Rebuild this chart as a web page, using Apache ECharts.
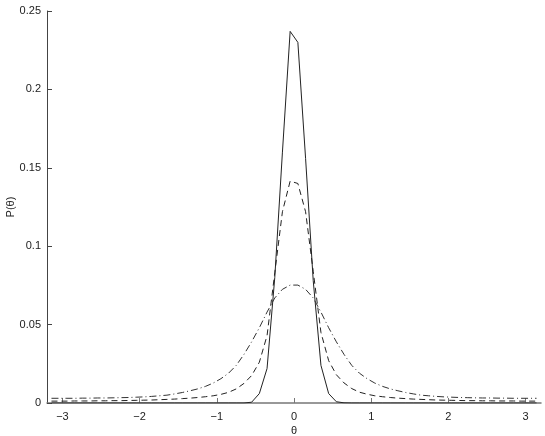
<!DOCTYPE html>
<html lang="en">
<head>
    <meta charset="UTF-8">
    <title>P(theta)</title>
    <script src="https://cdn.jsdelivr.net/npm/echarts@6.0.0/dist/echarts.min.js"></script>
    <style>
        html, body { margin: 0; padding: 0; background: #fff; }
    </style>
</head>
<body>
<div id="main" style="width: 545px;height:436px;"></div>

<script type="text/javascript">
    // theta sample points (64, from -pi to pi)
    var theta = [
        -3.142, -3.042, -2.942, -2.842, -2.743, -2.643, -2.543, -2.443, -2.344, -2.244, -2.144, -2.045,
        -1.945, -1.845, -1.745, -1.646, -1.546, -1.446, -1.346, -1.247, -1.147, -1.047, -0.947, -0.848,
        -0.748, -0.648, -0.549, -0.449, -0.349, -0.249, -0.150, -0.050,
        0.050, 0.150, 0.249, 0.349, 0.449, 0.549, 0.648, 0.748, 0.848, 0.947, 1.047, 1.147,
        1.247, 1.346, 1.446, 1.546, 1.646, 1.745, 1.845, 1.945, 2.045, 2.144, 2.244, 2.344,
        2.443, 2.543, 2.643, 2.743, 2.842, 2.942, 3.042, 3.142
    ];

    // solid curve (narrow)
    var solid = [
        0, 0, 0, 0, 0, 0, 0, 0, 0, 0, 0, 0, 0, 0, 0, 0, 0, 0, 0, 0, 0, 0, 0, 0, 0, 0,
        0.0005, 0.006, 0.022, 0.080, 0.160, 0.237,
        0.230, 0.156, 0.078, 0.024, 0.006, 0.0008, 0.0001,
        0, 0, 0, 0, 0, 0, 0, 0, 0, 0, 0, 0, 0, 0, 0, 0, 0, 0, 0, 0, 0, 0, 0, 0, 0, 0
    ];

    // dashed curve
    var dashed = [
        0.0012, 0.0012, 0.0012, 0.0013, 0.0013, 0.0013, 0.0014, 0.0014, 0.0015, 0.0015, 0.0016, 0.0017,
        0.0018, 0.0019, 0.0021, 0.0023, 0.0025, 0.0028, 0.0031, 0.0035, 0.0040, 0.0046, 0.0055, 0.0068,
        0.0090, 0.0125, 0.0175, 0.026, 0.043, 0.083, 0.122, 0.1415,
        0.140, 0.122, 0.084, 0.045, 0.027, 0.018, 0.0128, 0.0092, 0.0069, 0.0056, 0.0046, 0.0040,
        0.0035, 0.0031, 0.0028, 0.0025, 0.0023, 0.0021, 0.0019, 0.0018, 0.0017, 0.0016, 0.0015, 0.0015,
        0.0014, 0.0014, 0.0013, 0.0013, 0.0013, 0.0012, 0.0012, 0.0012
    ];

    // dash-dot curve (widest)
    var dashDot = [
        0.0030, 0.0030, 0.0030, 0.0030, 0.0031, 0.0031, 0.0032, 0.0032, 0.0033, 0.0034, 0.0035, 0.0037,
        0.0039, 0.0042, 0.0046, 0.0050, 0.0058, 0.0067, 0.0078, 0.0090, 0.0106, 0.0127, 0.0155, 0.019,
        0.024, 0.031, 0.039, 0.048, 0.058, 0.067, 0.0725, 0.0752,
        0.0752, 0.0725, 0.067, 0.058, 0.048, 0.039, 0.031, 0.024, 0.019, 0.0155, 0.0127, 0.0106,
        0.0090, 0.0078, 0.0067, 0.0058, 0.0050, 0.0046, 0.0042, 0.0039, 0.0037, 0.0035, 0.0034, 0.0033,
        0.0032, 0.0032, 0.0031, 0.0031, 0.0030, 0.0030, 0.0030, 0.0030
    ];

    var xTicks = [-3, -2, -1, 0, 1, 2, 3];

    function pairs(ys) {
        return theta.map(function (t, i) { return [t, ys[i]]; });
    }

    var font = 'Liberation Sans, Arial, sans-serif';
    var myChart = echarts.init(document.getElementById('main'));
    var option = {
        animation: false,
        backgroundColor: '#fff',
        grid: { left: 47, right: 4, top: 11, bottom: 33, containLabel: false, outerBoundsMode: 'none' },
        xAxis: {
            type: 'value',
            min: -3.2,
            max: 3.2,
            name: 'θ',
            nameLocation: 'middle',
            nameGap: 22,
            nameMoveOverlap: false,
            nameTextStyle: { color: '#222', fontSize: 11, fontFamily: font },
            axisLine: { show: true, onZero: false, lineStyle: { color: '#777', width: 1.5 } },
            axisTick: { show: true, inside: true, length: 5, customValues: xTicks, lineStyle: { color: '#777' } },
            axisLabel: {
                customValues: xTicks,
                margin: 8,
                color: '#222', fontSize: 11, fontFamily: font,
                formatter: function (v) { return v < 0 ? '\u2212' + Math.abs(v) : String(v); }
            },
            splitLine: { show: false }
        },
        yAxis: {
            type: 'value',
            min: 0,
            max: 0.25,
            interval: 0.05,
            name: 'P(θ)',
            nameLocation: 'middle',
            nameGap: 31,
            nameMoveOverlap: false,
            nameTextStyle: { color: '#222', fontSize: 11, fontFamily: font },
            axisLine: { show: true, onZero: false, lineStyle: { color: '#444', width: 1 } },
            axisTick: { show: true, inside: true, length: 5, lineStyle: { color: '#444' } },
            axisLabel: { margin: 6, color: '#222', fontSize: 11, fontFamily: font },
            splitLine: { show: false }
        },
        series: [
            {
                name: 'solid', type: 'line', data: pairs(solid),
                showSymbol: false, symbol: 'none',
                lineStyle: { color: '#222', width: 1, type: 'solid' }
            },
            {
                name: 'dashed', type: 'line', data: pairs(dashed),
                showSymbol: false, symbol: 'none',
                lineStyle: { color: '#222', width: 1, type: [6, 4] }
            },
            {
                name: 'dashdot', type: 'line', data: pairs(dashDot),
                showSymbol: false, symbol: 'none',
                lineStyle: { color: '#333', width: 1, type: [7, 3, 1, 3] }
            }
        ]
    };
    myChart.setOption(option);
</script>
</body>
</html>
